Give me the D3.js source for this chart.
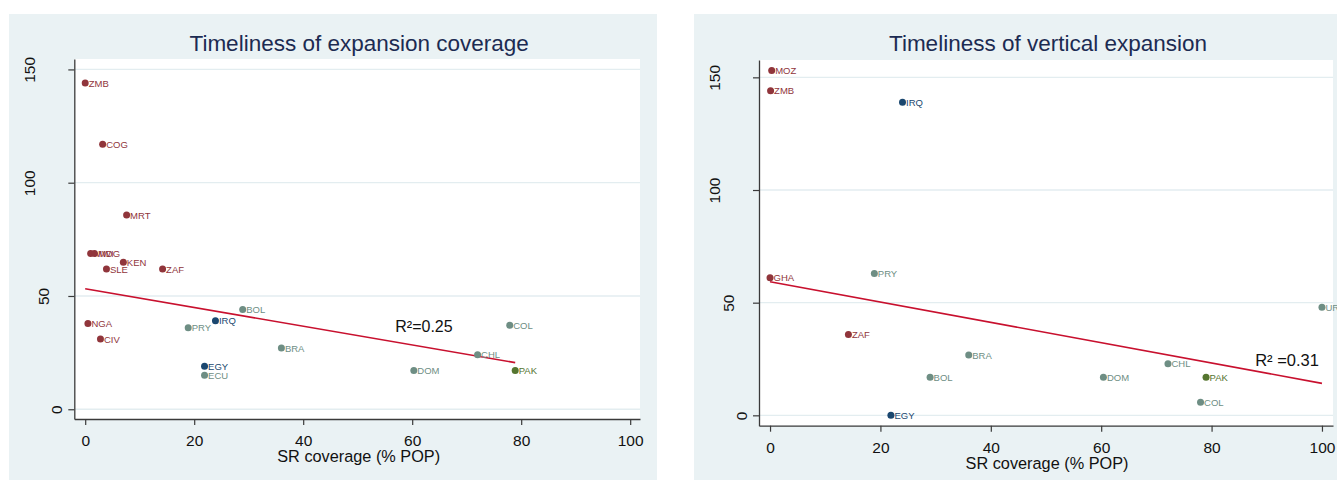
<!DOCTYPE html>
<html>
<head>
<meta charset="utf-8">
<script src="https://cdn.jsdelivr.net/npm/d3@7"></script>
<style>
  body { margin: 0; background: #ffffff; }
  svg { display: block; }
  text { font-family: "Liberation Sans", Arial, Helvetica, sans-serif; }
</style>
</head>
<body>
<svg id="chart" width="1337" height="480"></svg>
<script>
// ---- Panel 1: timeliness of expansion coverage ----
const coverageCountries = ["ZMB","COG","MRT","MWI","MDG","KEN","SLE","ZAF","NGA","CIV",
                           "PRY","IRQ","BOL","BRA","EGY","ECU","DOM","CHL","COL","PAK"];
const coverageRegions   = ["SSA","SSA","SSA","SSA","SSA","SSA","SSA","SSA","SSA","SSA",
                           "LAC","MENA","LAC","LAC","MENA","LAC","LAC","LAC","LAC","SAS"];
const coverageSR        = [0.0, 3.2, 7.6, 1.0, 1.7, 7.0, 3.9, 14.2, 0.5, 2.8,
                           18.9, 23.9, 28.9, 36.0, 21.9, 21.9, 60.3, 72.0, 77.9, 78.9];
const coverageDays      = [144, 117, 85.7, 68.8, 68.8, 64.9, 61.9, 61.9, 37.9, 31.0,
                           36.0, 39.1, 44.0, 27.0, 19.0, 15.0, 17.1, 24.1, 37.1, 17.1];
const coverageFitX = [0, 78.9];
const coverageFitY = [53.2, 20.6];
const coverageR2   = "R²=0.25";
const coverageR2At = [56.9, 34.2];

// ---- Panel 2: timeliness of vertical expansion ----
const verticalCountries = ["MOZ","ZMB","IRQ","GHA","PRY","URY","ZAF","BRA","CHL","BOL",
                           "DOM","PAK","COL","EGY"];
const verticalRegions   = ["SSA","SSA","MENA","SSA","LAC","LAC","SSA","LAC","LAC","LAC",
                           "LAC","SAS","LAC","MENA"];
const verticalSR        = [0.3, 0.1, 24.0, 0.0, 18.9, 100.0, 14.2, 36.0, 72.1, 29.0,
                           60.4, 79.0, 78.0, 21.9];
const verticalDays      = [153.0, 144.1, 138.9, 61.1, 63.0, 48.0, 35.9, 26.8, 22.9, 16.9,
                           16.9, 16.9, 5.8, 0.0];
const verticalFitX = [0, 100];
const verticalFitY = [59.3, 14.2];
const verticalR2   = "R² =0.31";
const verticalR2At = [87.9, 21.9];

// ---- Shared axes ----
const xTicks = [0, 20, 40, 60, 80, 100];
const yTicks = [0, 50, 100, 150];
const xTitle = "SR coverage (% POP)";
const regionColors = { SSA: "#90353b", MENA: "#1a476f", LAC: "#6e8e84", SAS: "#55752f" };

const panels = [
  {
    title: "Timeliness of expansion coverage",
    countries: coverageCountries, regions: coverageRegions, xs: coverageSR, ys: coverageDays,
    fitX: coverageFitX, fitY: coverageFitY, r2: coverageR2, r2At: coverageR2At, r2Size: 16,
    bg: [9, 14, 648, 466],
    plot: { left: 74.3, right: 640, top: 59, bottom: 419 },
    xDomain: [-2, 101.8], yDomain: [-4.3, 154.6]
  },
  {
    title: "Timeliness of vertical expansion",
    countries: verticalCountries, regions: verticalRegions, xs: verticalSR, ys: verticalDays,
    fitX: verticalFitX, fitY: verticalFitY, r2: verticalR2, r2At: verticalR2At, r2Size: 16.5,
    bg: [694, 14, 648, 466],
    plot: { left: 759, right: 1333, top: 60, bottom: 425.7 },
    xDomain: [-2, 102], yDomain: [-4.6, 157.7]
  }
];

const svg = d3.select("#chart");

panels.forEach(p => {
  const g = svg.append("g");

  // graph region
  g.append("rect")
    .attr("x", p.bg[0]).attr("y", p.bg[1])
    .attr("width", p.bg[2]).attr("height", p.bg[3])
    .attr("fill", "#eaf2f4");

  // plot region
  g.append("rect")
    .attr("x", p.plot.left).attr("y", p.plot.top)
    .attr("width", p.plot.right - p.plot.left)
    .attr("height", p.plot.bottom - p.plot.top)
    .attr("fill", "#ffffff");

  const x = d3.scaleLinear().domain(p.xDomain).range([p.plot.left, p.plot.right]);
  const y = d3.scaleLinear().domain(p.yDomain).range([p.plot.bottom, p.plot.top]);

  // horizontal grid
  g.append("g").selectAll("line").data(yTicks).join("line")
    .attr("x1", p.plot.left).attr("x2", p.plot.right)
    .attr("y1", d => y(d)).attr("y2", d => y(d))
    .attr("stroke", "#e3edf0").attr("stroke-width", 1.3);

  // title
  g.append("text")
    .attr("x", (p.plot.left + p.plot.right) / 2 + 2)
    .attr("y", 51)
    .attr("text-anchor", "middle")
    .attr("font-size", 22.5)
    .attr("fill", "#1c2b52")
    .text(p.title);

  // y axis
  const yAxis = g.append("g")
    .attr("transform", `translate(${p.plot.left},0)`)
    .call(d3.axisLeft(y).tickValues(yTicks).tickSize(6).tickSizeOuter(0).tickFormat(d3.format("d")));
  yAxis.select(".domain").attr("stroke", "#3a3a3a").attr("stroke-width", 1.3);
  yAxis.selectAll(".tick line").attr("stroke", "#3a3a3a").attr("stroke-width", 1.2);
  yAxis.selectAll(".tick text")
    .attr("x", null).attr("dy", null)
    .attr("transform", d => `translate(${-(4 + 13.5 * String(d).length)},0) rotate(-90)`)
    .attr("text-anchor", "middle")
    .attr("dy", "0.36em")
    .attr("font-size", 15.5)
    .attr("fill", "#111111");

  // x axis
  const xAxis = g.append("g")
    .attr("transform", `translate(0,${p.plot.bottom})`)
    .call(d3.axisBottom(x).tickValues(xTicks).tickSize(6).tickSizeOuter(0).tickFormat(d3.format("d")));
  xAxis.select(".domain").attr("stroke", "#3a3a3a").attr("stroke-width", 1.3);
  xAxis.selectAll(".tick line").attr("stroke", "#3a3a3a").attr("stroke-width", 1.2);
  xAxis.selectAll(".tick text")
    .attr("y", 27).attr("dy", null)
    .attr("font-size", 15.5)
    .attr("fill", "#111111");

  // x axis title
  g.append("text")
    .attr("x", x(50) + 1)
    .attr("y", p.plot.bottom + 43)
    .attr("text-anchor", "middle")
    .attr("font-size", 16.3)
    .attr("fill", "#111111")
    .text(xTitle);

  // fitted line
  g.append("line")
    .attr("x1", x(p.fitX[0])).attr("y1", y(p.fitY[0]))
    .attr("x2", x(p.fitX[1])).attr("y2", y(p.fitY[1]))
    .attr("stroke", "#c8102e").attr("stroke-width", 1.6);

  // points and labels
  const pts = p.countries.map((c, i) => ({ c, r: p.regions[i], sx: p.xs[i], sy: p.ys[i] }));
  g.append("g").selectAll("circle").data(pts).join("circle")
    .attr("cx", d => x(d.sx)).attr("cy", d => y(d.sy))
    .attr("r", 3.5)
    .attr("fill", d => regionColors[d.r]);
  g.append("g").selectAll("text").data(pts).join("text")
    .attr("x", d => x(d.sx) + 3.5).attr("y", d => y(d.sy))
    .attr("dy", "0.38em")
    .attr("font-size", 9.5)
    .attr("fill", d => regionColors[d.r])
    .text(d => d.c);

  // R-squared note
  g.append("text")
    .attr("x", x(p.r2At[0])).attr("y", y(p.r2At[1]))
    .attr("font-size", p.r2Size)
    .attr("fill", "#111111")
    .text(p.r2);
});
</script>
</body>
</html>
